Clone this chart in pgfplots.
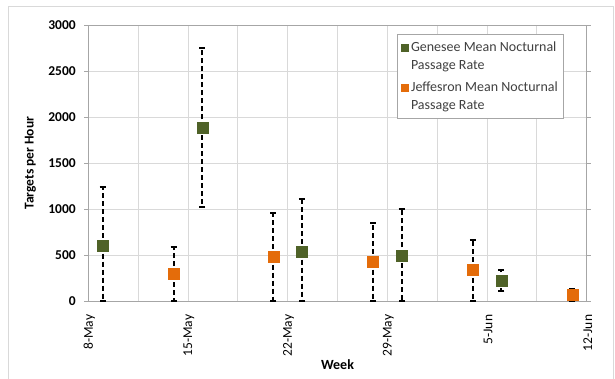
\documentclass[border=0pt]{standalone}
\usepackage{pgfplots}
\pgfplotsset{compat=1.18}
\usepackage{fontspec}
\setmainfont{Carlito}
\definecolor{gen}{HTML}{4F6228}
\definecolor{jef}{HTML}{E46C0A}
\definecolor{gridc}{HTML}{D9D9D9}
\definecolor{axc}{HTML}{A6A6A6}
\definecolor{legtext}{HTML}{404040}
\begin{document}
\begin{tikzpicture}[x=1pt,y=1pt]
\useasboundingbox (0,0) rectangle (615,379);
\draw[gridc, line width=0.8pt] (8,-20) rectangle (613.5,372.3);
\begin{axis}[
  at={(88.3pt,77.7pt)}, anchor=south west,
  scale only axis, width=498.4pt, height=276.3pt,
  xmin=0, xmax=35, ymin=0, ymax=3000,
  xtick={0,7,14,21,28,35},
  xticklabels={8-May,15-May,22-May,29-May,5-Jun,12-Jun},
  minor xtick={3.5,10.5,17.5,24.5,31.5},
  ytick={0,500,1000,1500,2000,2500,3000},
  yticklabels={\textbf{0},\textbf{500},\textbf{1000},\textbf{1500},\textbf{2000},\textbf{2500},\textbf{3000}},
  xmajorgrids, xminorgrids, ymajorgrids,
  grid style={gridc, line width=0.8pt},
  minor grid style={gridc, line width=0.8pt},
  axis line style={axc, line width=0.8pt},
  x tick style={draw=none},
  minor x tick style={draw=none},
  y tick style={axc, line width=0.8pt},
  tick align=outside, major tick length=4pt,
  /pgf/number format/assume math mode=true,
  yticklabel style={font=\fontsize{13.5}{16}\selectfont, xshift=-5pt},
  xticklabel style={font=\fontsize{13.5}{16}\selectfont, rotate=90, anchor=east, xshift=-6pt, yshift=-1pt},
  ylabel={Targets per Hour},
  ylabel style={font=\fontsize{13.5}{16}\selectfont\bfseries, at={(axis description cs:-0.116,0.5)}, anchor=center},
  xlabel={Week},
  xlabel style={font=\fontsize{14}{16}\selectfont\bfseries, yshift=4pt},
  legend style={at={(0.955,0.967)}, anchor=north east, draw=axc, line width=0.8pt,
    fill=white, font=\fontsize{14}{18}\selectfont\color{legtext},
    cells={align=left, anchor=west}, row sep=7pt, inner xsep=4pt, inner ysep=5pt},
  clip=false,
]
\addplot[only marks, mark=square*, mark size=5.5pt, mark options={gen, fill=gen},
  legend image code/.code={\fill[gen] (0pt,5pt) rectangle (7pt,12pt);},
  error bars/.cd, y dir=both, y explicit, error mark=-,
  error bar style={black, line width=2pt, dash pattern=on 5pt off 3pt},
  error mark options={solid, black, line width=2pt, mark size=3pt, rotate=90}]
coordinates {
  (1,604) += (0,640) -= (0,604)
  (8,1889) += (0,865) -= (0,862)
  (15,539) += (0,572) -= (0,539)
  (22,499) += (0,506) -= (0,499)
  (29,228) += (0,108) -= (0,113)
};
\addlegendentry{Genesee Mean Nocturnal\\Passage Rate}
\addplot[only marks, mark=square*, mark size=5.5pt, mark options={jef, fill=jef},
  legend image code/.code={\fill[jef] (0pt,5pt) rectangle (7pt,12pt);},
  error bars/.cd, y dir=both, y explicit, error mark=-,
  error bar style={black, line width=2pt, dash pattern=on 5pt off 3pt},
  error mark options={solid, black, line width=2pt, mark size=3pt, rotate=90}]
coordinates {
  (6,296) += (0,290) -= (0,296)
  (13,484) += (0,475) -= (0,484)
  (20,430) += (0,423) -= (0,430)
  (27,340) += (0,325) -= (0,340)
  (34,70) += (0,64) -= (0,64)
};
\addlegendentry{Jeffesron Mean Nocturnal\\Passage Rate}
\end{axis}
\end{tikzpicture}
\end{document}
